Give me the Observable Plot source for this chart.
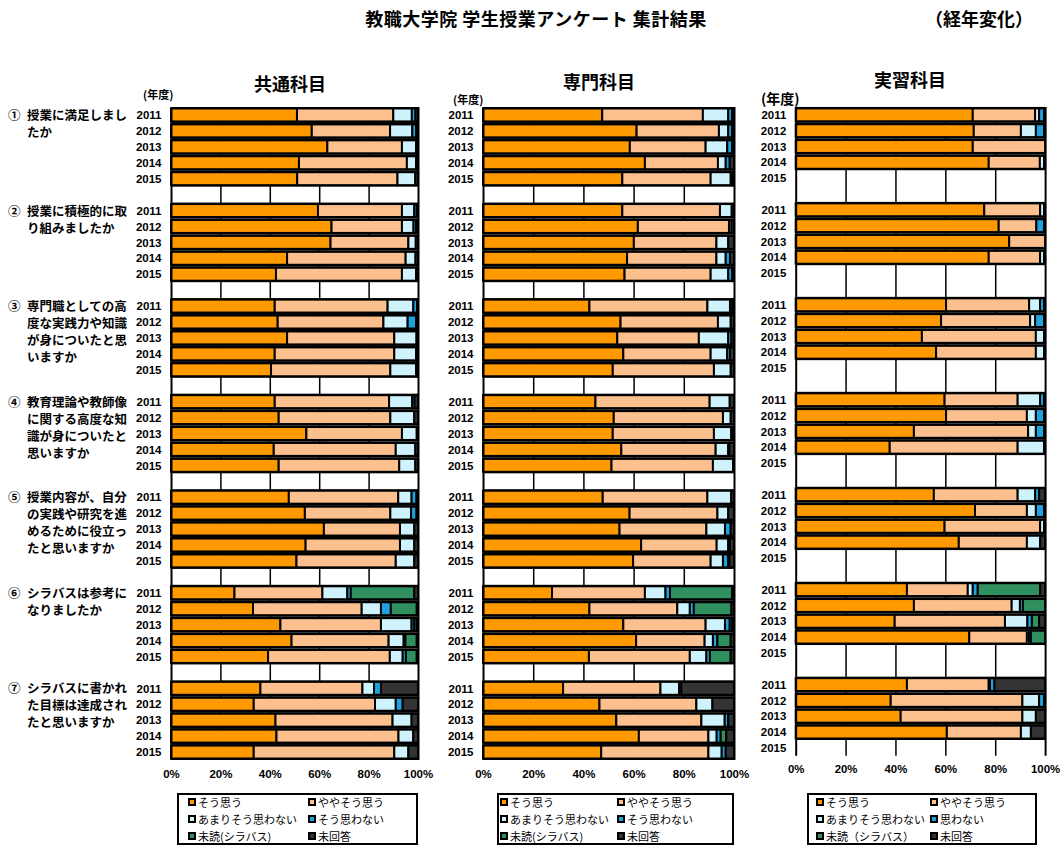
<!DOCTYPE html>
<html><head><meta charset="utf-8">
<script src="https://cdn.jsdelivr.net/npm/d3@7"></script>
<script src="https://cdn.jsdelivr.net/npm/@observablehq/plot@0.6"></script>
<style>
body{margin:0;background:#fff;font-family:"Noto Sans CJK JP",sans-serif;}
#root{position:relative;width:1061px;height:847px;overflow:hidden;background:#fff;}
.abs{position:absolute;white-space:nowrap;color:#000;}
.panel{position:absolute;}
.legend{position:absolute;border:2px solid #000;box-sizing:border-box;background:#fff;}
.li{position:absolute;font-size:11px;line-height:13px;white-space:nowrap;}
.sw{display:inline-block;width:4px;height:4px;border:2px solid #000;margin-right:2px;vertical-align:1px;}
</style></head><body><div id="root"></div>
<script>
// ---- data ----
const categories = ["そう思う","ややそう思う","あまりそう思わない","そう思わない","未読(シラバス)","未回答"];
const colors = ["#FF9900","#FBC08E","#CFF3FC","#1FA3DE","#2F8F5E","#333333"];
const years = ["2011","2012","2013","2014","2015"];
const questionNums = ["①","②","③","④","⑤","⑥","⑦"];
const questionLines = [
  ["授業に満足しまし","たか"],
  ["授業に積極的に取","り組みましたか"],
  ["専門職としての高","度な実践力や知識","が身についたと思","いますか"],
  ["教育理論や教師像","に関する高度な知","識が身についたと","思いますか"],
  ["授業内容が、自分","の実践や研究を進","めるために役立っ","たと思いますか"],
  ["シラバスは参考に","なりましたか"],
  ["シラバスに書かれ","た目標は達成され","たと思いますか"]
];
const panelTitles = ["共通科目","専門科目","実習科目"];
const xTicks = [0,0.2,0.4,0.6,0.8,1];
const legendLabels3 = ["そう思う","ややそう思う","あまりそう思わない","思わない","未読（シラバス）","未回答"];

// [question, year, そう思う, ややそう思う, あまりそう思わない, そう思わない, 未読, 未回答]
const kyotsu = [
  [1,"2011",51,39,7.5,1.5,0,1],[1,"2012",57,31.7,9,1.6,0,0.7],[1,"2013",63.3,30.2,5.7,0,0,0.8],[1,"2014",51.8,43.7,3.7,0,0,0.8],[1,"2015",51.1,40.6,7.2,0,0,1.1],
  [2,"2011",59.5,34,5,1,0,0.5],[2,"2012",65,28.5,4.7,1,0,0.8],[2,"2013",64.6,31.5,3,0,0,0.9],[2,"2014",47,48,4,0,0,1],[2,"2015",42.5,51,5.7,0,0,0.8],
  [3,"2011",42,45.7,10.4,1.5,0,0.4],[3,"2012",43.2,42.8,9.8,3.4,0,0.8],[3,"2013",47,43.4,9,0,0,0.6],[3,"2014",42,48.4,8.8,0,0,0.8],[3,"2015",40.5,48.3,10.4,0,0,0.8],
  [4,"2011",42,46.3,9.3,1,0,1.4],[4,"2012",43.6,45.2,9.7,0,0,1.5],[4,"2013",54.8,38.7,6,0,0,0.5],[4,"2014",41.6,49.4,7.9,0,0,1.1],[4,"2015",43.6,48.8,6.5,0,0,1.1],
  [5,"2011",47.7,44.3,5.4,2,0,0.6],[5,"2012",54.2,34.6,8.4,2.2,0,0.6],[5,"2013",61.9,30.8,5.8,0,0,1.5],[5,"2014",54.5,38.2,5.8,0,0,1.5],[5,"2015",50.8,40.2,7.5,0,0,1.5],
  [6,"2011",25.7,35.6,10.1,1.4,25.7,1.5],[6,"2012",33.2,44,7.8,4,10.5,0.5],[6,"2013",44.3,40.7,12.4,1.1,1,0.5],[6,"2014",48.8,39.3,6.1,0.7,4.6,0.5],[6,"2015",39.3,49.3,5.2,1.3,4.4,0.5],
  [7,"2011",36.2,41.3,4.7,2.8,0,15],[7,"2012",33.5,49.1,8.4,2.8,0,6.2],[7,"2013",42.3,47.4,7.7,0,0,2.6],[7,"2014",42.7,49.4,6,0,0,1.9],[7,"2015",33.5,56.9,5.7,0,0,3.9]
];
const senmon = [
  [1,"2011",47.5,40.1,10.1,1.6,0,0.7],[1,"2012",61.2,32.8,3.7,1.6,0,0.7],[1,"2013",58.5,30.2,8.6,2,0,0.7],[1,"2014",64.5,29.1,3.1,1.6,0,1.7],[1,"2015",55.5,35.2,8,0.5,0,0.8],
  [2,"2011",55.5,38.9,4.7,0,0,0.9],[2,"2012",61.7,36.3,1,0,0,1],[2,"2013",60.1,32.9,4.7,0,0,2.3],[2,"2014",57.4,35.6,3.7,1.7,0,1.6],[2,"2015",56.4,34.3,7,1.6,0,0.7],
  [3,"2011",42.4,47,9,0.9,0,0.7],[3,"2012",54.8,38.8,5.1,0,0,1.3],[3,"2013",53.5,32.5,11.7,1.3,0,1],[3,"2014",55.9,34.8,6.6,1.1,0,1.6],[3,"2015",51.7,40.3,6.7,0,0,1.3],
  [4,"2011",44.8,45.5,8,0,0,1.7],[4,"2012",52.1,43.5,3.1,0,0,1.3],[4,"2013",51.7,40.3,6.9,0.7,0,0.4],[4,"2014",55.1,37.6,5,0.5,0,1.8],[4,"2015",51.2,40.4,8,0,0,0.4],
  [5,"2011",47.7,41.7,9.5,0,0,1.1],[5,"2012",58.4,35,4.3,0,0,2.3],[5,"2013",54.4,34.6,7.4,2.3,0,1.3],[5,"2014",63,30.1,4.6,0.7,0,1.6],[5,"2015",59.8,30.9,4.9,2.1,0.5,1.8],
  [6,"2011",27.5,37,8.2,1.8,24.8,0.7],[6,"2012",42.4,35,5,1.6,15,1],[6,"2013",55.9,32.8,7.7,1.9,1,0.7],[6,"2014",61,27.3,3.3,1.8,5.3,1.3],[6,"2015",42.2,40.2,6.6,1.4,8.3,1.3],
  [7,"2011",31.9,38.8,7.4,0.9,0,21],[7,"2012",46.4,38.6,6.4,0,0,8.6],[7,"2013",53.1,33.9,9.3,1.4,0,2.3],[7,"2014",62.1,27.7,3.3,1.6,2.2,3.1],[7,"2015",47.1,42.7,5.3,1.6,0,3.3]
];
const jisshu = [
  [1,"2011",71,25,1.6,2,0,0.4],[1,"2012",71.4,18.9,6,3.3,0,0.4],[1,"2013",71,29,0,0,0,0],[1,"2014",77.4,20.5,1.7,0,0,0.4],
  [2,"2011",75.6,22.4,1.6,0,0,0.4],[2,"2012",81.4,15.1,0,3.1,0,0.4],[2,"2013",85.6,14.4,0,0,0,0],[2,"2014",77.4,20.6,1.6,0,0,0.4],
  [3,"2011",60.3,33.3,4.4,1.6,0,0.4],[3,"2012",58.3,35.7,2,3.6,0,0.4],[3,"2013",50.6,45.7,3.3,0,0,0.4],[3,"2014",56.3,40,3.3,0,0,0.4],
  [4,"2011",59.7,29.3,9,1.6,0,0.4],[4,"2012",60.3,32.4,3.6,3.3,0,0.4],[4,"2013",47.4,45.8,3.1,3.3,0,0.4],[4,"2014",37.7,51.3,10.6,0,0,0.4],
  [5,"2011",55.4,33.6,7,1.6,0,2.4],[5,"2012",71.9,20.8,3.6,3.3,0,0.4],[5,"2013",59.7,38.3,1.6,0,0,0.4],[5,"2014",65.4,27.3,5.3,0,0,2],
  [6,"2011",44.6,24.4,2,2,25,2],[6,"2012",47.4,39.2,3.3,1.2,8.9,0],[6,"2013",39.7,44.2,9,1.8,2.9,2.4],[6,"2014",69.6,23.1,0.8,0.8,5.7,0],
  [7,"2011",44.6,32.8,0.5,1.8,0,20.3],[7,"2012",38.1,52.8,6.7,2,0,0.4],[7,"2013",42.1,48.8,5.4,0,0,3.7],[7,"2014",60.6,29.7,4,0,0,5.7]
];

// ---- layout ----
const root = document.getElementById("root");
const PLOT_TOP = 107, PLOT_H = 653, MT = 10, MB = 30, ML = 50, MR = 16;

const yDomain = [];
for (let q = 1; q <= 7; q++) {
  for (const y of years) yDomain.push(q + "-" + y);
  if (q < 7) yDomain.push("gap" + q);
}
const rowH = PLOT_H / yDomain.length;

function addText(txt, left, top, css) {
  const d = document.createElement("div");
  d.className = "abs";
  d.textContent = txt;
  d.style.left = left + "px"; d.style.top = top + "px";
  Object.assign(d.style, css || {});
  root.appendChild(d);
  return d;
}

function makePanel(rows, x0, plotW) {
  const long = rows.flatMap(r => categories.map((c, i) => ({key: r[0] + "-" + r[1], cat: c, value: r[2 + i]}))).filter(d => d.value > 0);
  const bg = rows.map(r => ({key: r[0] + "-" + r[1]}));
  const chart = Plot.plot({
    width: ML + plotW + MR, height: MT + PLOT_H + MB,
    marginLeft: ML, marginRight: MR, marginTop: MT, marginBottom: MB,
    style: {fontSize: "11.5px", fontWeight: "bold", fontFamily: "'Liberation Sans', Arial, sans-serif", background: "transparent", color: "#000"},
    x: {domain: [0, 1], ticks: xTicks, tickFormat: d3.format(".0%"), tickSize: 0, tickPadding: 9, label: null},
    y: {type: "band", domain: yDomain, padding: 0, tickSize: 0, tickPadding: 10, label: null,
        tickFormat: d => d.startsWith("gap") ? "" : d.split("-")[1]},
    color: {domain: categories, range: colors},
    marks: [
      Plot.ruleX([0.2, 0.4, 0.6, 0.8], {stroke: "#000", strokeWidth: 1.5}),
      Plot.barX(bg, {x1: 0, x2: 1, y: "key", fill: "#000"}),
      Plot.barX(long, Plot.stackX({x: "value", y: "key", fill: "cat", order: categories, offset: "normalize",
        insetTop: 1.5, insetBottom: 1.5, stroke: "#000", strokeWidth: 2})),
      Plot.ruleX([0, 1], {stroke: "#000", strokeWidth: 2})
    ]
  });
  const wrap = document.createElement("div");
  wrap.className = "panel";
  wrap.style.left = (x0 - ML) + "px";
  wrap.style.top = (PLOT_TOP - MT) + "px";
  wrap.appendChild(chart);
  root.appendChild(wrap);
}

const panels = [
  {rows: kyotsu, x0: 171, w: 247, title: [290, 70], nendo: [143, 86, 11], legend: {l: 177, w: 241, c1: 13, c2: 133, labels: categories}},
  {rows: senmon, x0: 483, w: 251, title: [599, 68], nendo: [453, 91, 11], legend: {l: 497, w: 237, c1: 5, c2: 122, labels: categories}},
  {rows: jisshu, x0: 796, w: 251, title: [910, 66], nendo: [761, 88, 14], legend: {l: 807, w: 230, c1: 11, c2: 125, labels: legendLabels3}}
];

// title
addText("教職大学院  学生授業アンケート  集計結果", 536, 5, {fontSize: "18px", fontWeight: "bold", letterSpacing: "0.5px", transform: "translateX(-50%)"});
addText("（経年変化）", 925, 5, {fontSize: "18px", fontWeight: "bold"});

panels.forEach((p, pi) => {
  makePanel(p.rows, p.x0, p.w);
  addText(panelTitles[pi], p.title[0], p.title[1], {fontSize: "18px", fontWeight: "bold", transform: "translateX(-50%)"});
  addText("(年度)", p.nendo[0], p.nendo[1], {fontSize: p.nendo[2] + "px", fontWeight: "bold"});
  const lg = document.createElement("div");
  lg.className = "legend";
  lg.style.left = p.legend.l + "px"; lg.style.top = "793px";
  lg.style.width = p.legend.w + "px"; lg.style.height = "52px";
  p.legend.labels.forEach((lab, i) => {
    const it = document.createElement("div");
    it.className = "li";
    it.style.left = (i % 2 === 0 ? p.legend.c1 : p.legend.c2) - 4 + "px";
    it.style.top = (1 + Math.floor(i / 2) * 17) + "px";
    const sw = document.createElement("span");
    sw.className = "sw"; sw.style.background = colors[i];
    it.appendChild(sw);
    it.appendChild(document.createTextNode(lab));
    lg.appendChild(it);
  });
  root.appendChild(lg);
});

// question labels
questionLines.forEach((lines, qi) => {
  const idx = yDomain.indexOf((qi + 1) + "-2011");
  const cy = PLOT_TOP + (idx + 0.5) * rowH;
  addText(questionNums[qi], 8, cy - 9, {fontSize: "12.5px", fontWeight: "bold", lineHeight: "17px"});
  const d = addText("", 27, cy - 9, {fontSize: "12.5px", fontWeight: "bold", lineHeight: "17px"});
  d.innerHTML = lines.join("<br>");
});
</script></body></html>
